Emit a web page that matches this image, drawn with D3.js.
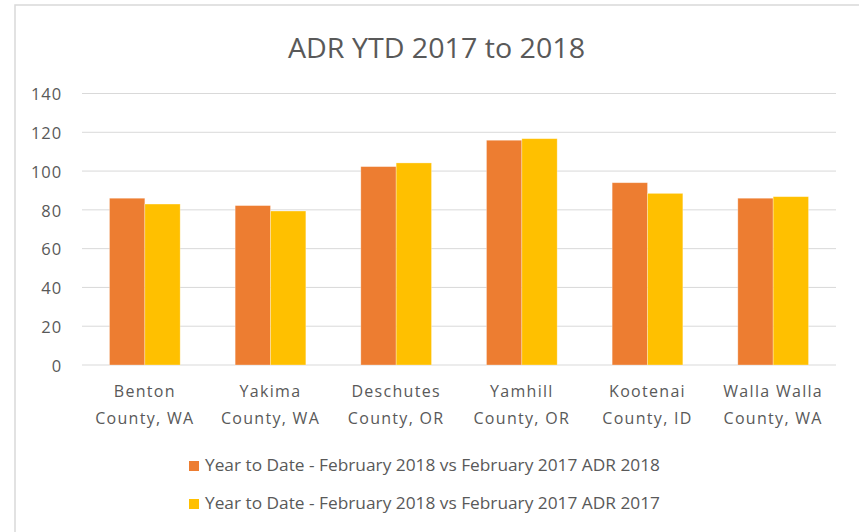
<!DOCTYPE html>
<html lang="en">
<head>
    <meta charset="UTF-8">
    <title>ADR YTD 2017 to 2018</title>
    <script src="https://d3js.org/d3.v7.min.js"></script>
    <style>
        body { margin: 0; background: #fff; }
        text { font-family: "Open Sans", sans-serif; fill: #595959; }
    </style>
</head>
<body>

<div id="chart"></div>
<script>

  // Data
  const categories = [
    ["Benton", "County, WA"],
    ["Yakima", "County, WA"],
    ["Deschutes", "County, OR"],
    ["Yamhill", "County, OR"],
    ["Kootenai", "County, ID"],
    ["Walla Walla", "County, WA"]
  ];
  const seriesNames = [
    "Year to Date - February 2018 vs February 2017 ADR 2018",
    "Year to Date - February 2018 vs February 2017 ADR 2017"
  ];
  const adr2018 = [86.0, 82.2, 102.3, 115.9, 94.0, 86.0];
  const adr2017 = [83.0, 79.4, 104.2, 116.7, 88.5, 86.8];
  const yTicks = [0, 20, 40, 60, 80, 100, 120, 140];
  const colors = ["#ED7D31", "#FFC000"];

  const W = 859, H = 532;
  const margin = { top: 93.5, right: 23, bottom: 167, left: 82 };
  const width = W - margin.left - margin.right,
        height = H - margin.top - margin.bottom;

  const root = d3.select("#chart")
    .append("svg")
      .attr("width", W)
      .attr("height", H);

  // chart area border (only top / left visible in the picture)
  root.append("rect")
    .attr("x", 15).attr("y", 5)
    .attr("width", W).attr("height", H)
    .attr("fill", "none")
    .attr("stroke", "#d9d9d9")
    .attr("stroke-width", 1.5);

  // title
  root.append("text")
    .attr("x", 436.5)
    .attr("y", 58)
    .attr("text-anchor", "middle")
    .style("font-size", "27px")
    .attr("textLength", 297)
    .attr("lengthAdjust", "spacingAndGlyphs")
    .text("ADR YTD 2017 to 2018");

  const svg = root.append("g")
    .attr("transform", `translate(${margin.left},${margin.top})`);

  const y = d3.scaleLinear()
    .domain([0, 140])
    .range([height, 0]);

  const x0 = d3.scaleBand()
    .domain(d3.range(categories.length))
    .range([0, width])
    .paddingInner(0.4375)
    .paddingOuter(0.21875);

  const x1 = d3.scaleBand()
    .domain([0, 1])
    .range([0, x0.bandwidth()]);

  // gridlines
  svg.append("g")
    .selectAll("line")
    .data(yTicks)
    .join("line")
      .attr("x1", 0)
      .attr("x2", width)
      .attr("y1", d => y(d))
      .attr("y2", d => y(d))
      .attr("stroke", "#d9d9d9")
      .attr("stroke-width", 1);

  // y axis labels
  const yAxis = svg.append("g")
    .call(d3.axisLeft(y).tickValues(yTicks).tickSize(0).tickPadding(20));
  yAxis.select(".domain").remove();
  yAxis.selectAll("text")
    .attr("fill", "#595959")
    .attr("dy", "0.38em")
    .style("font-family", "Open Sans")
    .style("font-size", "16.5px")
    .style("letter-spacing", "0.9px");

  // bars
  const groups = svg.append("g")
    .selectAll("g")
    .data(categories.map((c, i) => [adr2018[i], adr2017[i]]))
    .join("g")
      .attr("transform", (d, i) => `translate(${x0(i)},0)`);

  groups.selectAll("rect")
    .data(d => d)
    .join("rect")
      .attr("x", (d, j) => x1(j))
      .attr("y", d => y(d))
      .attr("width", x1.bandwidth())
      .attr("height", d => height - y(d))
      .attr("fill", (d, j) => colors[j])
      .attr("stroke", "#fff")
      .attr("stroke-opacity", 0.4)
      .attr("stroke-width", 0.75);

  // category labels (two lines)
  const catLabels = svg.append("g")
    .selectAll("text")
    .data(categories)
    .join("text")
      .attr("x", (d, i) => x0(i) + x0.bandwidth() / 2)
      .attr("y", height + 32)
      .attr("text-anchor", "middle")
      .style("font-size", "16px")
      .style("letter-spacing", "1.3px");
  catLabels.append("tspan")
    .attr("x", (d, i) => x0(i) + x0.bandwidth() / 2)
    .text(d => d[0]);
  catLabels.append("tspan")
    .attr("x", (d, i) => x0(i) + x0.bandwidth() / 2)
    .attr("dy", 27)
    .text(d => d[1]);

  // legend
  const legend = root.append("g")
    .selectAll("g")
    .data(seriesNames)
    .join("g")
      .attr("transform", (d, i) => `translate(189,${461 + i * 38})`);

  legend.append("rect")
    .attr("width", 10)
    .attr("height", 10)
    .attr("fill", (d, i) => colors[i]);

  legend.append("text")
    .attr("x", 16)
    .attr("y", 10)
    .style("font-size", "16px")
    .attr("textLength", 455)
    .attr("lengthAdjust", "spacingAndGlyphs")
    .text(d => d);
</script>

</body>
</html>
